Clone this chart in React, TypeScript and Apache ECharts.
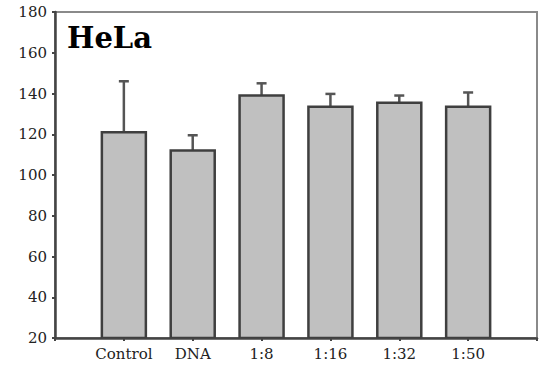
import React, { useEffect, useRef } from "react";
import * as echarts from "echarts";

const categories = ["", "Control", "DNA", "1:8", "1:16", "1:32", "1:50", ""];
const means = [null, 121, 112, 139, 133.5, 135.5, 133.5, null];
const errors = [null, 25, 7.5, 6, 6.3, 3.5, 7, null];
const yTicks = { min: 20, max: 180, interval: 20 };
const titleText = "HeLa";

export default function App() {
  const ref = useRef<HTMLDivElement>(null);
  useEffect(() => {
    if (!ref.current) return;
    document.body.style.margin = "0";
    const chart = echarts.init(ref.current, undefined, { renderer: "svg" });
    const data = categories
      .map((c, i) => [i, means[i], errors[i]])
      .filter((d) => d[1] != null);
    chart.setOption({
      animation: false,
      backgroundColor: "#ffffff",
      grid: {
        left: 55,
        top: 12,
        right: 3,
        bottom: 27,
        show: true,
        borderColor: "#8a8a8a",
        borderWidth: 2,
        backgroundColor: "transparent",
      },
      graphic: [
        {
          type: "text",
          left: 67,
          top: 23,
          style: {
            text: titleText,
            font: "bold 29px 'DejaVu Serif'",
            fill: "#000",
          },
        },
      ],
      xAxis: {
        type: "category",
        data: categories,
        boundaryGap: false,
        axisLine: { lineStyle: { color: "#444", width: 2.5 } },
        axisTick: { show: true, length: 3, inside: false, lineStyle: { color: "#444", width: 2 } },
        axisLabel: {
          color: "#222",
          fontFamily: "DejaVu Serif",
          fontSize: 15,
          margin: 8,
          interval: 0,
        },
        splitLine: { show: false },
      },
      yAxis: {
        type: "value",
        min: yTicks.min,
        max: yTicks.max,
        interval: yTicks.interval,
        axisLine: { show: true, lineStyle: { color: "#444", width: 2.5 } },
        axisTick: { show: true, length: 3, lineStyle: { color: "#444", width: 2 } },
        axisLabel: {
          color: "#222",
          fontFamily: "DejaVu Serif",
          fontSize: 15,
          margin: 8,
        },
        splitLine: { show: false },
      },
      series: [
        {
          type: "custom",
          data,
          clip: true,
          renderItem: (params: any, api: any) => {
            const x = api.value(0);
            const v = api.value(1);
            const e = api.value(2);
            const top = api.coord([x, v]);
            const base = api.coord([x, yTicks.min]);
            const eTop = api.coord([x, v + e]);
            const bw = 44;
            const cap = 10;
            return {
              type: "group",
              children: [
                {
                  type: "line",
                  shape: { x1: top[0], y1: top[1], x2: eTop[0], y2: eTop[1] },
                  style: { stroke: "#555", lineWidth: 2.5 },
                },
                {
                  type: "line",
                  shape: { x1: eTop[0] - cap / 2, y1: eTop[1], x2: eTop[0] + cap / 2, y2: eTop[1] },
                  style: { stroke: "#555", lineWidth: 2.5 },
                },
                {
                  type: "rect",
                  shape: { x: top[0] - bw / 2, y: top[1], width: bw, height: base[1] - top[1] },
                  style: { fill: "#c0c0c0", stroke: "#3f3f3f", lineWidth: 2.5 },
                },
              ],
            };
          },
        },
      ],
    });
    return () => chart.dispose();
  }, []);
  return (
    <div
      ref={ref}
      style={{ position: "absolute", left: 0, top: 0, width: 540, height: 365 }}
    />
  );
}
